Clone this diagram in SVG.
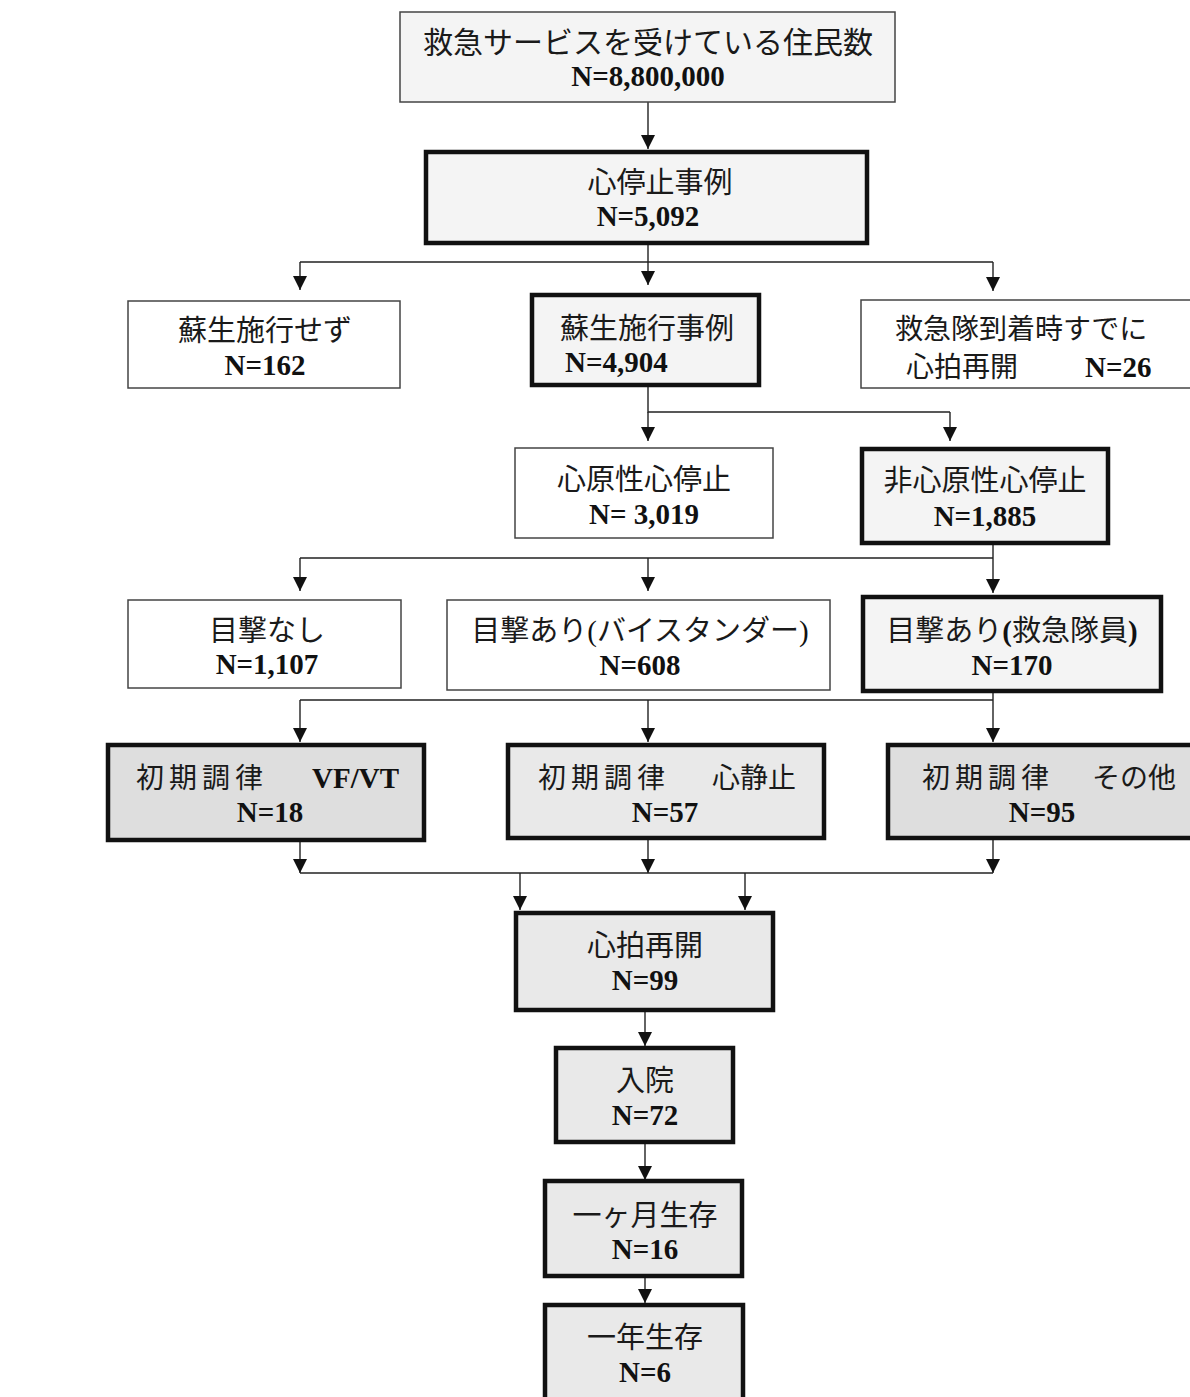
<svg xmlns="http://www.w3.org/2000/svg" width="1190" height="1397" viewBox="0 0 1190 1397">
<defs>
<marker id="ah" viewBox="0 0 12 12" refX="12" refY="6" markerWidth="14" markerHeight="14" markerUnits="userSpaceOnUse" orient="auto">
<path d="M0,0 L12,6 L0,12 z" fill="#111"/>
</marker>
</defs>
<style>
.thin{fill:#fff;stroke:#444;stroke-width:1.5}
.thick{fill:#efefef;stroke:#111;stroke-width:4.5}
.g1{fill:#f4f4f4}
.g2{fill:#dedede}
.g3{fill:#e9e9e9}
.jp{font-family:"Noto Sans CJK JP","Noto Sans",sans-serif;font-size:29px;fill:#1a1a1a}
.num{font-family:"Liberation Serif","Times New Roman",serif;font-weight:bold;font-size:29px;fill:#111}
.c{text-anchor:middle}
.conn path{fill:none;stroke:#222;stroke-width:1.4}
.arr{marker-end:url(#ah)}
.ls{letter-spacing:5px}
</style>
<rect width="1190" height="1397" fill="#fff"/>

<g class="conn" id="connectors">
<path class="arr" d="M648,102 V149"/>
<path d="M648,243 V262 M300,262 H993"/>
<path class="arr" d="M300,262 V290"/>
<path class="arr" d="M648,262 V285"/>
<path class="arr" d="M993,262 V291"/>
<path d="M648,385 V412 H950"/>
<path class="arr" d="M648,412 V441"/>
<path class="arr" d="M950,412 V441"/>
<path d="M993,543 V558 M300,558 H993"/>
<path class="arr" d="M300,558 V591"/>
<path class="arr" d="M648,558 V591"/>
<path class="arr" d="M993,558 V593"/>
<path d="M993,691 V700 M300,700 H993"/>
<path class="arr" d="M300,700 V742"/>
<path class="arr" d="M648,700 V742"/>
<path class="arr" d="M993,700 V742"/>
<path class="arr" d="M300,840 V873"/>
<path class="arr" d="M648,838 V873"/>
<path class="arr" d="M993,838 V873"/>
<path d="M300,873 H993"/>
<path class="arr" d="M520,873 V910"/>
<path class="arr" d="M745,873 V910"/>
<path class="arr" d="M645,1010 V1046"/>
<path class="arr" d="M645,1142 V1180"/>
<path class="arr" d="M645,1276 V1303"/>
</g>

<g id="n-population">
<rect class="thin g1" x="400" y="12" width="495" height="90"/>
<text class="jp c" x="648" y="53" style="font-size:30px">救急サービスを受けている住民数</text>
<text class="num c" x="648" y="86">N=8,800,000</text>
</g>

<g id="n-arrest">
<rect class="thick g1" x="426" y="152" width="441" height="91"/>
<text class="jp c" x="660" y="193">心停止事例</text>
<text class="num c" x="648" y="226">N=5,092</text>
</g>

<g id="n-no-resus">
<rect class="thin" x="128" y="301" width="272" height="87"/>
<text class="jp c" x="265" y="341">蘇生施行せず</text>
<text class="num c" x="265" y="375">N=162</text>
</g>

<g id="n-resus">
<rect class="thick g1" x="532" y="295" width="227" height="90"/>
<text class="jp c" x="647" y="339">蘇生施行事例</text>
<text class="num" x="565" y="372">N=4,904</text>
</g>

<g id="n-rosc-arrival">
<rect class="thin" x="861" y="300" width="340" height="88"/>
<text class="jp" x="895" y="339" style="font-size:28px">救急隊到着時すでに</text>
<text class="jp" x="906" y="377" style="font-size:28px">心拍再開</text>
<text class="num" x="1085" y="377">N=26</text>
</g>

<g id="n-cardiac">
<rect class="thin" x="515" y="448" width="258" height="90"/>
<text class="jp c" x="644" y="490">心原性心停止</text>
<text class="num c" x="644" y="524">N= 3,019</text>
</g>

<g id="n-noncardiac">
<rect class="thick g1" x="862" y="449" width="246" height="94"/>
<text class="jp c" x="985" y="491">非心原性心停止</text>
<text class="num c" x="985" y="526">N=1,885</text>
</g>

<g id="n-unwitnessed">
<rect class="thin" x="128" y="600" width="273" height="88"/>
<text class="jp c" x="267" y="641">目撃なし</text>
<text class="num c" x="267" y="674">N=1,107</text>
</g>

<g id="n-bystander">
<rect class="thin" x="447" y="600" width="383" height="90"/>
<text class="jp c" x="640" y="641">目撃あり<tspan class="num" style="font-weight:normal">(</tspan>バイスタンダー<tspan class="num" style="font-weight:normal">)</tspan></text>
<text class="num c" x="640" y="675">N=608</text>
</g>

<g id="n-ems">
<rect class="thick g1" x="863" y="597" width="298" height="94"/>
<text class="jp c" x="1012" y="641">目撃あり<tspan class="num">(</tspan>救急隊員<tspan class="num">)</tspan></text>
<text class="num c" x="1012" y="675">N=170</text>
</g>

<g id="n-vfvt">
<rect class="thick g2" x="108" y="745" width="316" height="95"/>
<text class="jp ls" x="136" y="788" style="font-size:28px">初期調律</text>
<text class="num" x="312" y="788">VF/VT</text>
<text class="num c" x="270" y="822">N=18</text>
</g>

<g id="n-asystole">
<rect class="thick g3" x="508" y="745" width="316" height="93"/>
<text class="jp ls" x="538" y="788" style="font-size:28px">初期調律</text>
<text class="jp" x="712" y="788" style="font-size:28px">心静止</text>
<text class="num c" x="665" y="822">N=57</text>
</g>

<g id="n-other">
<rect class="thick g2" x="888" y="745" width="310" height="93"/>
<text class="jp ls" x="922" y="788" style="font-size:28px">初期調律</text>
<text class="jp" x="1092" y="788" style="font-size:28px">その他</text>
<text class="num c" x="1042" y="822">N=95</text>
</g>

<g id="n-rosc">
<rect class="thick g3" x="516" y="913" width="257" height="97"/>
<text class="jp c" x="645" y="956">心拍再開</text>
<text class="num c" x="645" y="990">N=99</text>
</g>

<g id="n-admit">
<rect class="thick g3" x="556" y="1048" width="177" height="94"/>
<text class="jp c" x="645" y="1091">入院</text>
<text class="num c" x="645" y="1125">N=72</text>
</g>

<g id="n-1month">
<rect class="thick g3" x="545" y="1181" width="197" height="95"/>
<text class="jp c" x="645" y="1226">一ヶ月生存</text>
<text class="num c" x="645" y="1259">N=16</text>
</g>

<g id="n-1year">
<rect class="thick g3" x="545" y="1305" width="198" height="96"/>
<text class="jp c" x="645" y="1348">一年生存</text>
<text class="num c" x="645" y="1382">N=6</text>
</g>
</svg>
